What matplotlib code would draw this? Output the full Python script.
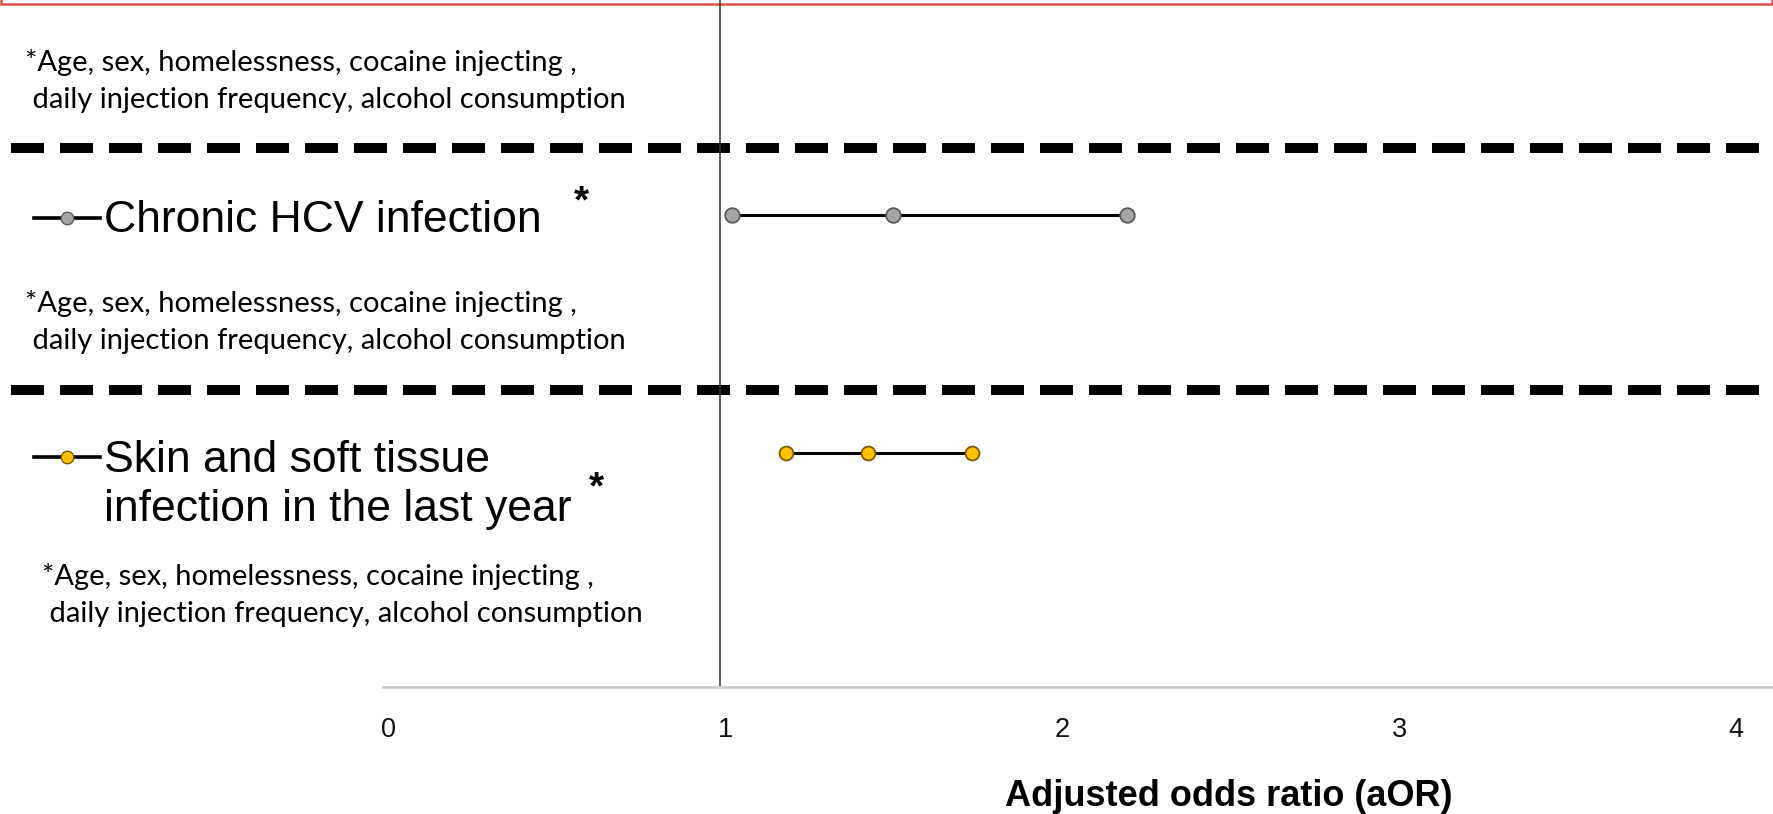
import matplotlib
matplotlib.use("Agg")
import matplotlib.pyplot as plt
from matplotlib.patches import Rectangle

# data (adjusted odds ratios: lower CI, estimate, upper CI)
categories = ["Chronic HCV infection", "Skin and soft tissue\ninfection in the last year"]
hcv_vals = [1.036, 1.513, 2.208]
ssti_vals = [1.196, 1.439, 1.748]
tick_vals = [0, 1, 2, 3, 4]
tick_labels = ["0", "1", "2", "3", "4"]
ref_value = 1
footnote = "*Age, sex, homelessness, cocaine injecting ,\n daily injection frequency, alcohol consumption"
xlabel = "Adjusted odds ratio (aOR)"

W, H = 1773, 814
fig = plt.figure(figsize=(W / 100, H / 100), dpi=100)

# layout axes in pixel units, data axes share the canvas
lay = fig.add_axes([0, 0, 1, 1])
lay.set_xlim(0, W)
lay.set_ylim(H, 0)
lay.axis("off")

ax = fig.add_axes([0, 0, 1, 1])
x0_px, unit_px = 383, 337
ax.set_xlim(-x0_px / unit_px, (W - x0_px) / unit_px)
ax.set_ylim(H, 0)
ax.axis("off")
ax.patch.set_alpha(0)

body = ["Lato", "DejaVu Sans"]
arial = ["Liberation Sans", "DejaVu Sans"]

# red box edge cut at the top
lay.add_patch(Rectangle((1, -50), W - 2, 54, fill=False, edgecolor="#d9534f", lw=1.8, clip_on=False))

# reference line and x axis
ax.plot([ref_value, ref_value], [0, 687], color="#333333", lw=1.1)
ax.plot([0, ax.get_xlim()[1]], [687, 687], color="#c8c8c8", lw=1.8)
for v, lab in zip(tick_vals, tick_labels):
    ax.text(v + 0.015, 730, lab, ha="center", va="center", fontsize=19.5, family=arial, color="#111111")
ax.text(2.51, 796, xlabel, ha="center", va="center", fontsize=26, fontweight="bold", family=arial)

# dashed separators
for y in [148, 390]:
    lay.plot([11, W], [y, y], color="black", lw=7.2, linestyle=(0, (3.3, 1.6)), dash_capstyle="butt")

# data rows
hcv_y, ssti_y = 215, 453
ax.plot(hcv_vals, [hcv_y] * 3, color="black", lw=2.2, marker="o", ms=10.5,
        markerfacecolor="#a6a6a6", markeredgecolor="#5a5a5a", markeredgewidth=1.3)
ax.plot(ssti_vals, [ssti_y] * 3, color="black", lw=2.2, marker="o", ms=10,
        markerfacecolor="#ffc000", markeredgecolor="#7a5a00", markeredgewidth=1.3)

# legend-like labels on the left
lay.plot([34, 67, 100], [218, 218, 218], color="black", lw=2.6, marker="o", markevery=[1], ms=9,
         markerfacecolor="#a6a6a6", markeredgecolor="#5a5a5a")
lay.plot([34, 67, 100], [457, 457, 457], color="black", lw=2.6, marker="o", markevery=[1], ms=9,
         markerfacecolor="#ffc000", markeredgecolor="#7a5a00")
lay.text(104, 220, categories[0], ha="left", va="center", fontsize=32, family=arial)
lay.text(104, 485, categories[1], ha="left", va="center", fontsize=32, family=arial, linespacing=1.25)
lay.text(581, 202, "*", ha="center", va="center", fontsize=28, fontweight="bold", family=arial)
lay.text(596, 488, "*", ha="center", va="center", fontsize=28, fontweight="bold", family=arial)

# footnotes
for x, y in [(25, 81), (25, 322), (42, 595)]:
    lay.text(x, y, footnote, ha="left", va="center", fontsize=21, family=body, linespacing=1.5)

fig.savefig("out.png", dpi=100)
